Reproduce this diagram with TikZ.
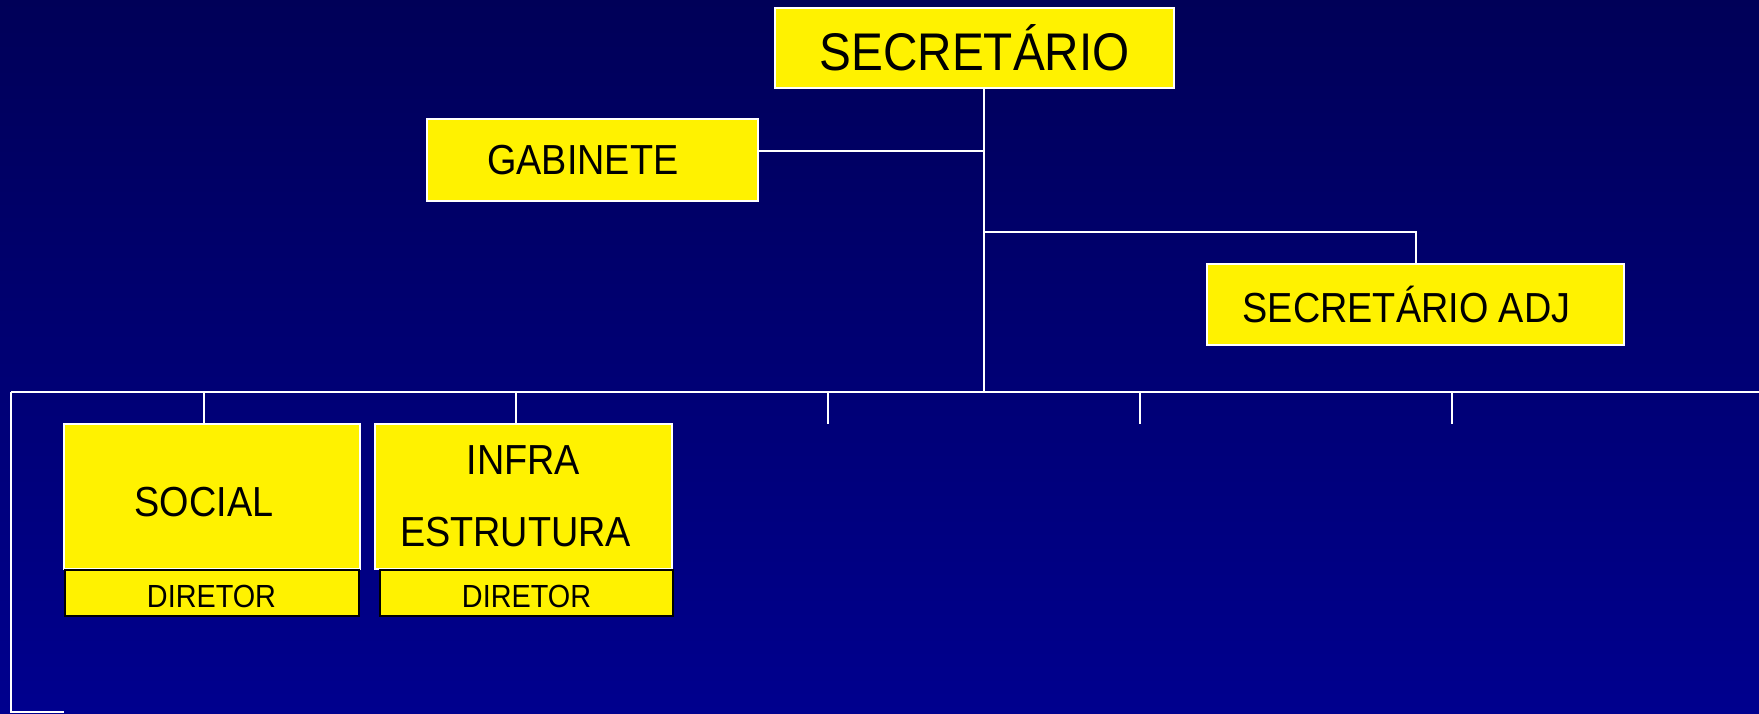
\documentclass[tikz,border=0pt]{standalone}
\usepackage{fontspec}
\setmainfont{Liberation Sans}[FakeStretch=0.9]
\begin{document}
\begin{tikzpicture}[x=1pt,y=-1pt,
  conn/.style={draw=white,line width=2pt},
  upbox/.style={draw=white,line width=2pt,fill=yellow,inner sep=0pt,text=black,anchor=center},
  dirbox/.style={draw=black,line width=2pt,fill=yellow,inner sep=0pt,text=black,anchor=center,
    minimum width=294pt,minimum height=46pt,font=\fontsize{32}{36}\selectfont,
    text height=30pt,text depth=0pt}
]
\useasboundingbox (0,0) rectangle (1759,713);
\shade[top color={rgb,255:red,0;green,0;blue,88},bottom color={rgb,255:red,0;green,0;blue,142}] (0,0) rectangle (1759,713);

\node[upbox,minimum width=399pt,minimum height=80pt,font=\fontsize{53}{60}\selectfont] (sec) at (974.7,47.7) {SECRETÁRIO};
\node[upbox,minimum width=331pt,minimum height=82pt,font=\fontsize{42}{48}\selectfont] (gab) at (592.8,159.8) {GABINETE\hspace*{20pt}};
\node[upbox,minimum width=417pt,minimum height=81pt,font=\fontsize{42}{48}\selectfont] (adj) at (1415.5,304) {SECRETÁRIO ADJ\hspace*{18pt}};
\node[upbox,minimum width=296pt,minimum height=145pt,font=\fontsize{42}{48}\selectfont,text height=40pt,text depth=0pt] (social) at (212,496.5) {SOCIAL\hspace*{16pt}};
\node[upbox,minimum width=297pt,minimum height=145pt,font=\fontsize{42}{72}\selectfont,align=center] (infra) at (523.5,496.5) {INFRA\\ESTRUTURA\hspace*{16pt}};
\node[dirbox] (dir1) at (211.5,592.5) {DIRETOR};
\node[dirbox,minimum width=293pt] (dir2) at (526.5,592.5) {DIRETOR};

\coordinate (gj) at (984,151.4);
\coordinate (aj) at (984,232.2);
\coordinate (hl) at (11.2,391.5);
\coordinate (hr) at (1759,391.5);
\coordinate (hc) at (984,391.5);
\coordinate (d1) at (204.2,391.5);
\coordinate (d2) at (516,391.5);
\coordinate (d3) at (827.9,391.5);
\coordinate (d4) at (1139.8,391.5);
\coordinate (d5) at (1451.6,391.5);
\coordinate (lb) at (11.2,712);
\coordinate (lbe) at (64,712);

\draw[conn] (hc |- sec.south) -- (hc);
\draw[conn] (gab.east |- gj) -- (gj);
\draw[conn] (aj) -| (adj.north);
\draw[conn] (hl) -- (hr);
\draw[conn] (d1) -- (d1 |- social.north);
\draw[conn] (d2) -- (d2 |- infra.north);
\draw[conn] (d3) -- ++(0,32.5) coordinate (e3);
\draw[conn] (d4) -- ++(0,32.5) coordinate (e4);
\draw[conn] (d5) -- ++(0,32.5) coordinate (e5);
\draw[conn] (hl) -- (lb) -- (lbe);
\end{tikzpicture}
\end{document}
